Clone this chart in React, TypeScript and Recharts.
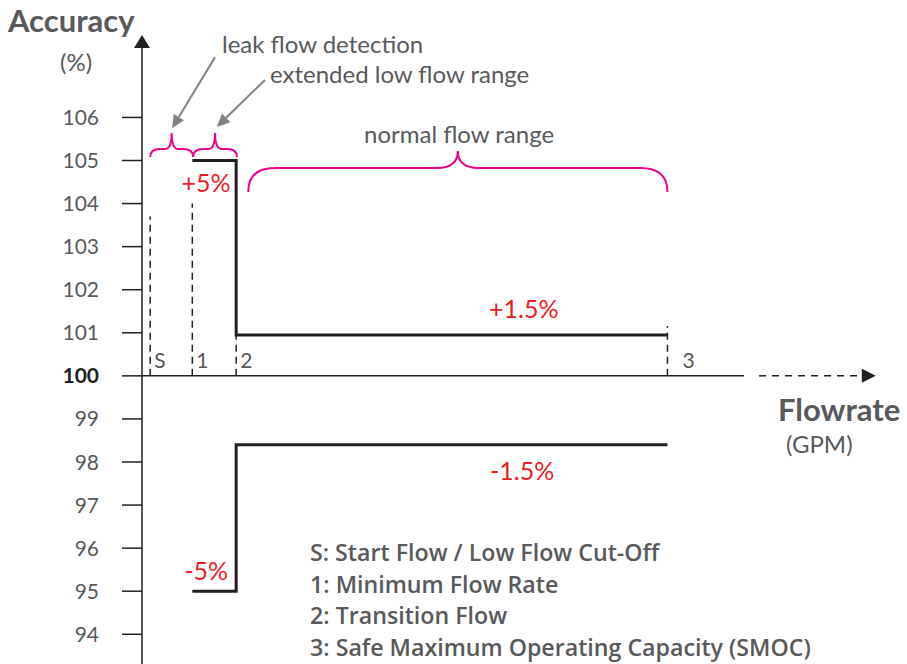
import React from 'react';
import {
  ComposedChart,
  Line,
  XAxis,
  YAxis,
  ReferenceLine,
  ReferenceArea,
  ReferenceDot,
} from 'recharts';

const INK = '#231f20';
const GRAY_TEXT = '#58595b';
const RED = '#ed1c24';
const MAGENTA = '#ec008c';
const ARROW_GRAY = '#808285';
const FONT = 'Lato, "Open Sans", sans-serif';

const accuracyTicks = [94, 95, 96, 97, 98, 99, 100, 101, 102, 103, 104, 105, 106];

// characteristic flow points (relative GPM units)
const pointNames = ['S', '1', '2', '3'];
const pointFlows = [0.19, 1.17, 2.19, 12.22];
const pointGuideTops = [103.7, 104.0, 100.95, 101.16];

// accuracy envelope
const upperFlows = [1.17, 2.19, 12.22];
const upperAccuracy = [105, 100.95, 100.95];
const lowerFlows = [1.17, 2.19, 12.22];
const lowerAccuracy = [95, 98.4, 98.4];

const toleranceLabels = ['+5%', '+1.5%', '-1.5%', '-5%'];
const toleranceFlows = [1.49, 8.88, 8.84, 1.49];
const toleranceAccuracy = [104.47, 101.55, 97.79, 95.47];

const legendLines = [
  'S: Start Flow / Low Flow Cut-Off',
  '1: Minimum Flow Rate',
  '2: Transition Flow',
  '3: Safe Maximum Operating Capacity (SMOC)',
];

const upperData = upperFlows.map((x, i) => ({ x, y: upperAccuracy[i] }));
const lowerData = lowerFlows.map((x, i) => ({ x, y: lowerAccuracy[i] }));

const X_DOMAIN: [number, number] = [0, 17.07];
const Y_DOMAIN: [number, number] = [93.31, 108.03];

const AccuracyTick = (props: any) => {
  const { x, y, payload } = props;
  const base = payload.value === 100;
  return (
    <text
      x={x}
      y={y}
      dy="0.36em"
      textAnchor="end"
      fontFamily={FONT}
      fontSize={21}
      fontWeight={base ? 700 : 400}
      fill={base ? INK : GRAY_TEXT}
    >
      {payload.value}
    </text>
  );
};

// line with a filled arrow head; "beyond" puts the head past the end point
const arrowShape =
  (opts: { head: number; half: number; color: string; width: number; dash?: string; beyond?: boolean }) =>
  (props: any) => {
    const { x1, y1, x2, y2 } = props;
    const dx = x2 - x1;
    const dy = y2 - y1;
    const len = Math.hypot(dx, dy) || 1;
    const ux = dx / len;
    const uy = dy / len;
    const tipX = opts.beyond ? x2 + ux * opts.head : x2;
    const tipY = opts.beyond ? y2 + uy * opts.head : y2;
    const bx = tipX - ux * opts.head;
    const by = tipY - uy * opts.head;
    const px = -uy * opts.half;
    const py = ux * opts.half;
    return (
      <g>
        <line
          x1={x1}
          y1={y1}
          x2={bx}
          y2={by}
          stroke={opts.color}
          strokeWidth={opts.width}
          strokeDasharray={opts.dash}
        />
        <polygon
          points={`${tipX},${tipY} ${bx + px},${by + py} ${bx - px},${by - py}`}
          fill={opts.color}
        />
      </g>
    );
  };

const braceShape = (endDrop: number, endW: number, cuspW: number) => (props: any) => {
  const { x, y, width, height } = props;
  const x0 = x;
  const x1 = x + width;
  const xm = x + width / 2;
  const yb = y + height;
  const yf = yb - endDrop;
  const d = [
    `M${x0},${yb}`,
    `Q${x0},${yf} ${x0 + endW},${yf}`,
    `L${xm - cuspW},${yf}`,
    `Q${xm},${yf} ${xm},${y}`,
    `Q${xm},${yf} ${xm + cuspW},${yf}`,
    `L${x1 - endW},${yf}`,
    `Q${x1},${yf} ${x1},${yb}`,
  ].join(' ');
  return <path d={d} fill="none" stroke={MAGENTA} strokeWidth={2} />;
};

const textShape =
  (text: string, style: { color: string; size: number; anchor?: string; dx?: number; dy?: number }) =>
  (props: any) =>
    (
      <text
        x={props.cx + (style.dx ?? 0)}
        y={props.cy + (style.dy ?? 0)}
        textAnchor={style.anchor ?? 'middle'}
        fontFamily={FONT}
        fontSize={style.size}
        fill={style.color}
      >
        {text}
      </text>
    );

function AccuracyChart() {
  return (
    <ComposedChart width={907} height={664} margin={{ top: 30, right: 31, bottom: 0, left: 42 }}>
      <XAxis type="number" dataKey="x" domain={X_DOMAIN} allowDataOverflow hide />
      <YAxis
        type="number"
        domain={Y_DOMAIN}
        ticks={accuracyTicks}
        interval={0}
        allowDataOverflow
        width={100}
        axisLine={false}
        tickSize={20}
        tickMargin={23}
        tickLine={{ stroke: INK, strokeWidth: 1.5 }}
        tick={<AccuracyTick />}
      />

      {/* axes drawn as arrows */}
      <ReferenceLine
        segment={[{ x: 0, y: Y_DOMAIN[0] }, { x: 0, y: 107.61 }]}
        shape={arrowShape({ head: 13, half: 8, color: INK, width: 1.5, beyond: true })}
      />
      <ReferenceLine segment={[{ x: 0, y: 100 }, { x: 14, y: 100 }]} stroke={INK} strokeWidth={1.5} />
      <ReferenceLine
        segment={[{ x: 14.35, y: 100 }, { x: 16.74, y: 100 }]}
        shape={arrowShape({ head: 14, half: 7, color: INK, width: 1.5, dash: '7 6', beyond: true })}
      />

      {/* dashed guides at the flow points */}
      {pointFlows.map((f, i) => (
        <ReferenceLine
          key={'g' + i}
          segment={[{ x: f, y: 100 }, { x: f, y: pointGuideTops[i] }]}
          stroke={INK}
          strokeWidth={1.5}
          strokeDasharray="7 5"
        />
      ))}
      {pointNames.map((n, i) => (
        <ReferenceDot
          key={'n' + i}
          x={pointFlows[i]}
          y={100}
          r={0}
          shape={textShape(n, {
            color: GRAY_TEXT,
            size: 21,
            anchor: 'start',
            dx: i === pointNames.length - 1 ? 15 : 4,
            dy: -8,
          })}
        />
      ))}

      {/* flow range braces */}
      <ReferenceArea
        x1={pointFlows[0]}
        x2={pointFlows[1] + 0.02}
        y1={105.08}
        y2={105.64}
        shape={braceShape(8, 10, 7)}
      />
      <ReferenceArea
        x1={pointFlows[1] + 0.02}
        x2={pointFlows[2] + 0.02}
        y1={105.08}
        y2={105.64}
        shape={braceShape(8, 10, 7)}
      />
      <ReferenceArea x1={2.47} x2={pointFlows[3]} y1={104.27} y2={105.22} shape={braceShape(24, 27, 21)} />

      {/* callout arrows */}
      <ReferenceLine
        segment={[{ x: 1.7, y: 107.4 }, { x: 0.7, y: 105.75 }]}
        shape={arrowShape({ head: 13, half: 6, color: ARROW_GRAY, width: 2 })}
      />
      <ReferenceLine
        segment={[{ x: 2.86, y: 106.87 }, { x: 1.74, y: 105.78 }]}
        shape={arrowShape({ head: 13, half: 6, color: ARROW_GRAY, width: 2 })}
      />

      <Line
        data={upperData}
        dataKey="y"
        type="stepAfter"
        stroke={INK}
        strokeWidth={3}
        dot={false}
        isAnimationActive={false}
      />
      <Line
        data={lowerData}
        dataKey="y"
        type="stepAfter"
        stroke={INK}
        strokeWidth={3}
        dot={false}
        isAnimationActive={false}
      />

      {toleranceLabels.map((t, i) => (
        <ReferenceDot
          key={'t' + i}
          x={toleranceFlows[i]}
          y={toleranceAccuracy[i]}
          r={0}
          shape={textShape(t, { color: RED, size: 25, dy: 9 })}
        />
      ))}
    </ComposedChart>
  );
}

export default function App() {
  return (
    <div style={{ position: 'absolute', left: 0, top: 0, width: 907, height: 664, background: '#fff' }}>
      <AccuracyChart />
      <svg
        width={907}
        height={664}
        style={{ position: 'absolute', left: 0, top: 0, pointerEvents: 'none' }}
        fontFamily={FONT}
      >
        <text x={8} y={32} fontSize={31} fontWeight={700} fill={GRAY_TEXT}>Accuracy</text>
        <text x={60} y={71} fontSize={24} fill={GRAY_TEXT}>(%)</text>
        <text x={222} y={53} fontSize={24} fill={GRAY_TEXT}>leak flow detection</text>
        <text x={270} y={83} fontSize={24} fill={GRAY_TEXT}>extended low flow range</text>
        <text x={364} y={143} fontSize={24} fill={GRAY_TEXT}>normal flow range</text>
        <text x={778} y={421} fontSize={31} fontWeight={700} fill={GRAY_TEXT}>Flowrate</text>
        <text x={786} y={453} fontSize={24} fill={GRAY_TEXT}>(GPM)</text>
        {legendLines.map((l, i) => (
          <text
            key={l}
            x={310}
            y={561 + i * 31.5}
            fontFamily='"Open Sans", sans-serif'
            fontSize={23.2}
            fontWeight={600}
            fill={GRAY_TEXT}
          >
            {l}
          </text>
        ))}
      </svg>
    </div>
  );
}
